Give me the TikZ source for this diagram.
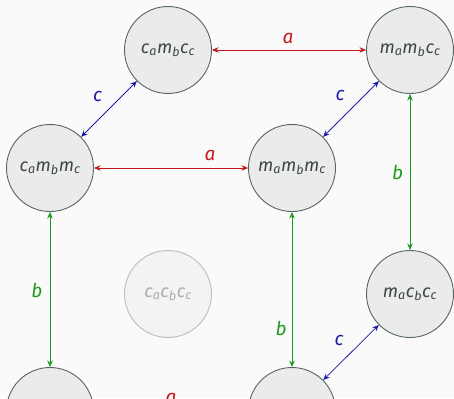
\documentclass[tikz,border=0pt]{standalone}
\usepackage{fontspec}
\setmainfont{Fira Sans}
\usetikzlibrary{arrows.meta}
\definecolor{bg}{HTML}{FAFAFA}
\definecolor{nodefill}{HTML}{EBEBEB}
\definecolor{nodeline}{HTML}{566666}
\definecolor{nodetext}{HTML}{3A4848}
\definecolor{fadefill}{HTML}{F3F3F3}
\definecolor{fadeline}{HTML}{B9BDBD}
\definecolor{fadetext}{HTML}{A9ADAD}
\definecolor{redc}{HTML}{C4161C}
\definecolor{bluec}{HTML}{1E1EA6}
\definecolor{greenc}{HTML}{1C9A1C}
\newcommand\sbx[1]{\textsubscript{#1}}
\begin{document}
\begin{tikzpicture}[x=1pt,y=-1pt,
  state/.style={circle, draw=nodeline, fill=nodefill, line width=0.9pt,
    minimum size=87pt, inner sep=0pt, text=nodetext,
    font=\fontsize{18}{20}\selectfont\itshape},
  faded/.style={state, draw=fadeline, fill=fadefill, text=fadetext},
  tip/.tip={Stealth[length=6.5pt,width=5.5pt]},
  link/.style={line width=0.75pt, tip-tip},
  lbl/.style={font=\fontsize{19}{20}\selectfont\itshape, inner sep=0pt, anchor=base}]
\clip (0,0) rectangle (454,398);
\fill[bg] (0,0) rectangle (454,398);
% back face
\node[state] (cmc) at (168,50) {c\sbx{a}m\sbx{b}c\sbx{c}};
\node[state] (mmc) at (410,50) {m\sbx{a}m\sbx{b}c\sbx{c}};
\node[faded] (ccc) at (168,294) {c\sbx{a}c\sbx{b}c\sbx{c}};
\node[state] (mcc) at (410,294) {m\sbx{a}c\sbx{b}c\sbx{c}};
% front face
\node[state] (cmm) at (50,168) {c\sbx{a}m\sbx{b}m\sbx{c}};
\node[state] (mmm) at (292,168) {m\sbx{a}m\sbx{b}m\sbx{c}};
\node[state] (ccm) at (50,411) {};
\node[state] (mcm) at (292,411) {};
% a edges
\draw[link, redc] (cmc) -- (mmc);
\draw[link, redc] (cmm) -- (mmm);
\draw[link, redc] (ccm) -- (mcm);
% c edges
\draw[link, bluec] (cmm) -- (cmc);
\draw[link, bluec] (mmm) -- (mmc);
\draw[link, bluec] (mcm) -- (mcc);
% b edges
\draw[link, greenc] (mmc) -- (mcc);
\draw[link, greenc] (cmm) -- (ccm);
\draw[link, greenc] (mmm) -- (mcm);
% labels
\node[lbl, text=redc] (la1) at (288,43.3) {a};
\node[lbl, text=redc] (la2) at (210,160.5) {a};
\node[lbl, text=redc] (la3) at (171,403.5) {a};
\node[lbl, text=bluec] (lc1) at (97.5,102) {c};
\node[lbl, text=bluec] (lc2) at (340,101) {c};
\node[lbl, text=bluec] (lc3) at (339,345) {c};
\node[lbl, text=greenc] (lb1) at (397.5,179) {b};
\node[lbl, text=greenc] (lb2) at (37,297) {b};
\node[lbl, text=greenc] (lb3) at (281,335) {b};
\end{tikzpicture}
\end{document}
